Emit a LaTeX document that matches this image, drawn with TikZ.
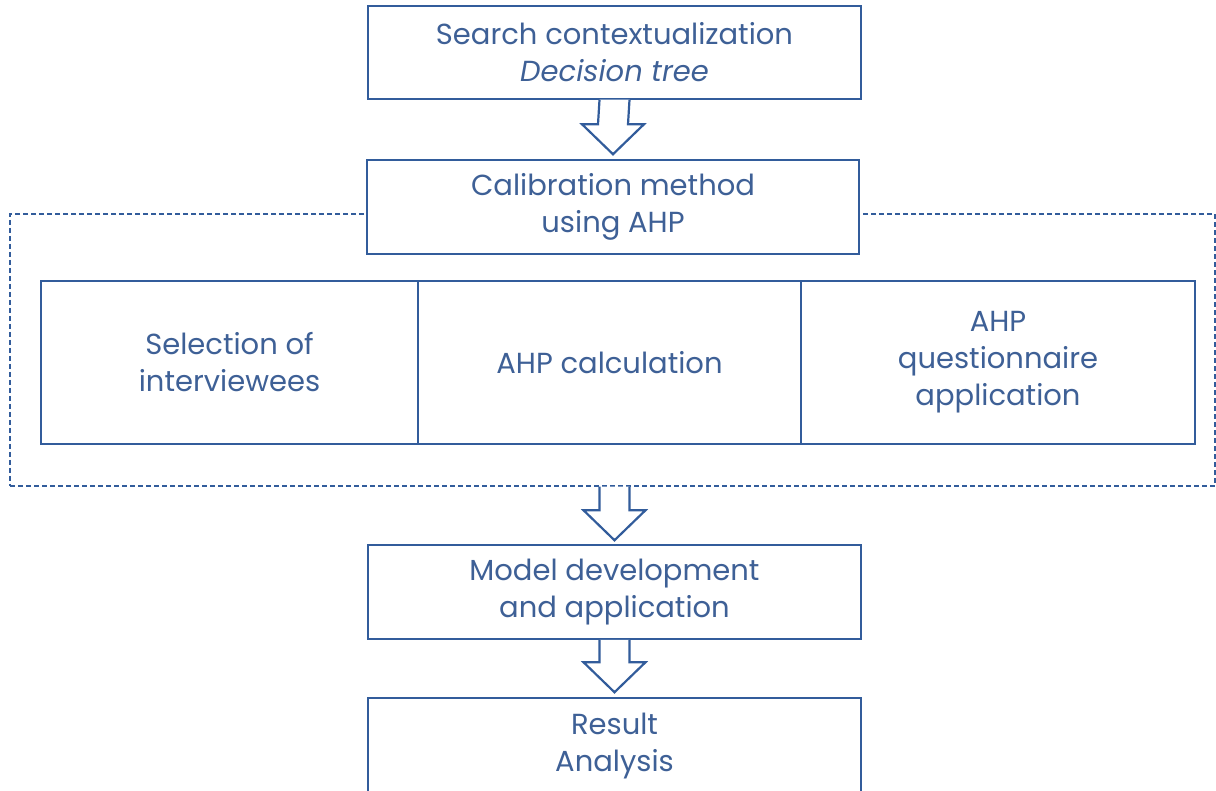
\documentclass[tikz,border=0pt]{standalone}
\usepackage{fontspec}
\setmainfont{Poppins}
\usetikzlibrary{calc}
\definecolor{lineblue}{RGB}{50,92,155}
\definecolor{textblue}{RGB}{62,96,150}
\tikzset{
  box/.style={draw=lineblue, line width=1.5pt, fill=white, inner sep=0pt, align=center,
    text=textblue, font=\fontsize{29}{37}\selectfont},
  dashbox/.style={draw=lineblue, line width=1.2pt, dash pattern=on 5pt off 3pt, inner sep=0pt},
  barrow/.style={draw=lineblue, line width=2.2pt, fill=white, line join=miter}
}
\newcommand{\blockarrow}[2]{%
  \draw[barrow] ($(#1)+(-15,0)$) -- ($(#2)+(-15,-30)$) -- ($(#2)+(-31,-30)$) -- (#2)
    -- ($(#2)+(31,-30)$) -- ($(#2)+(15,-30)$) -- ($(#1)+(15,0)$);}
\begin{document}
\begin{tikzpicture}[x=1pt,y=-1pt]
\clip (0,0) rectangle (1216,791);
\fill[white] (0,0) rectangle (1216,791);
% dashed frame
\node[dashbox, minimum width=1205pt, minimum height=272pt] (frame) at (612.5,350) {};
% main boxes
\node[box, minimum width=493pt, minimum height=93pt] (b1) at (614.5,52.5)
  {Search contextualization\\\textit{Decision tree}};
\node[box, minimum width=492pt, minimum height=94pt] (b2) at (613,207)
  {Calibration method\\using AHP};
\node[box, minimum width=377pt, minimum height=163pt] (s1) at (229.5,362.5)
  {Selection of\\interviewees};
\node[box, minimum width=383pt, minimum height=163pt] (s2) at (609.5,362.5)
  {AHP calculation};
\node[box, minimum width=394pt, minimum height=163pt] (s3) at (998,362.5)
  {AHP\\questionnaire\\application};
\node[box, minimum width=493pt, minimum height=94pt] (b4) at (614.5,592)
  {Model development\\and application};
\node[box, minimum width=493pt, minimum height=110pt] (b5) at (614.5,753)
  {};
\node[text=textblue, font=\fontsize{29}{37}\selectfont, align=center, anchor=north] (b5t)
  at ($(b5.north)+(0,12)$) {Result\\Analysis};
% block arrows
\coordinate (a1s) at (b1.south);
\coordinate (a1t) at ($(b2.north)+(0,-5)$);
\blockarrow{a1s}{a1t}
\coordinate (a2s) at (frame.south -| b4.north);
\coordinate (a2t) at ($(b4.north)+(0,-4)$);
\blockarrow{a2s}{a2t}
\coordinate (a3s) at (b4.south);
\coordinate (a3t) at ($(b5.north)+(0,-5)$);
\blockarrow{a3s}{a3t}
\end{tikzpicture}
\end{document}
